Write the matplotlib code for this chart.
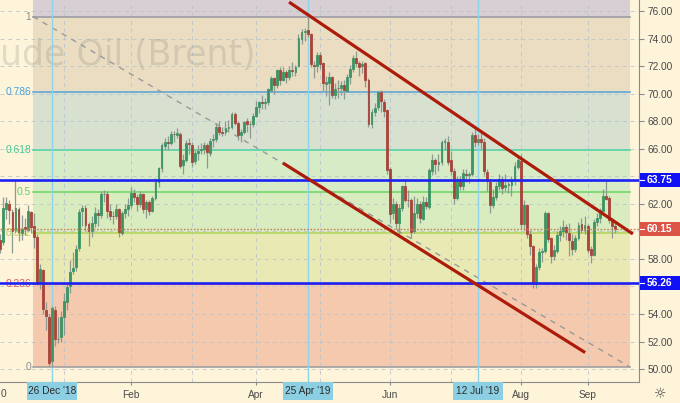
import matplotlib
matplotlib.use("Agg")
import matplotlib.pyplot as plt
from matplotlib.patches import Rectangle
from matplotlib.lines import Line2D

# ---------------- data ----------------
opens = [59.40, 59.20, 61.60, 62.00, 61.40, 60.10, 61.60, 59.90, 60.30, 60.10,
         61.40, 60.40, 59.60, 56.30, 57.20, 54.30, 53.80, 50.60, 54.30, 52.20,
         52.30, 53.80, 54.90, 56.00, 57.10, 57.40, 58.80, 61.50, 61.70, 60.50,
         60.00, 60.60, 61.30, 61.20, 62.70, 62.70, 61.50, 61.10, 61.10, 61.60,
         59.90, 61.30, 61.60, 61.90, 62.80, 62.50, 62.00, 62.70, 61.60, 62.10,
         61.50, 62.40, 63.60, 64.60, 66.20, 66.50, 66.40, 67.10, 67.00, 67.10,
         64.80, 65.20, 66.40, 66.30, 65.10, 65.70, 65.90, 66.00, 66.30, 65.70,
         66.60, 66.70, 67.60, 67.20, 67.20, 67.50, 67.60, 68.50, 67.90, 67.00,
         67.20, 68.00, 67.80, 67.80, 68.40, 69.00, 69.40, 69.30, 69.40, 70.30,
         71.10, 70.60, 71.70, 71.00, 71.60, 71.20, 71.70, 71.60, 72.00, 74.00,
         74.50, 74.60, 74.30, 72.10, 72.00, 72.80, 72.20, 70.70, 70.80, 71.20,
         69.90, 70.40, 70.40, 70.60, 70.20, 71.20, 71.80, 72.60, 72.20, 72.00,
         72.20, 71.00, 67.80, 68.70, 69.00, 70.10, 69.40, 68.80, 64.50, 61.30,
         62.00, 60.60, 61.70, 63.30, 62.30, 62.30, 60.00, 61.30, 62.00, 60.90,
         62.10, 61.80, 64.40, 65.20, 64.90, 65.00, 66.50, 66.50, 65.20, 64.40,
         62.40, 63.80, 63.30, 64.20, 64.10, 64.20, 67.00, 66.50, 66.70, 66.50,
         64.30, 63.60, 61.90, 62.50, 63.30, 63.80, 63.20, 63.40, 63.40, 63.70,
         64.70, 65.10, 60.50, 61.90, 59.80, 58.90, 56.20, 57.40, 58.50, 58.60,
         61.30, 59.50, 58.20, 58.60, 59.70, 60.00, 60.30, 59.90, 59.30, 58.70,
         59.50, 60.50, 60.10, 60.40, 58.70, 58.30, 60.70, 61.00, 61.50, 62.60,
         62.40, 60.80, 60.40]
highs = [59.80, 62.50, 62.50, 62.30, 61.60, 63.70, 61.80, 61.20, 61.00, 61.90,
         61.50, 61.30, 59.80, 57.60, 57.30, 54.90, 54.00, 54.60, 54.60, 53.80,
         54.20, 55.50, 56.30, 57.90, 58.50, 59.00, 61.60, 61.90, 61.90, 60.70,
         61.10, 61.80, 61.60, 62.90, 63.00, 62.90, 62.00, 61.50, 62.00, 61.70,
         61.50, 62.00, 62.40, 63.20, 63.10, 62.70, 62.90, 62.80, 62.30, 62.30,
         62.60, 63.90, 64.70, 66.40, 66.80, 66.90, 67.30, 67.30, 67.50, 67.20,
         65.60, 66.60, 66.80, 66.50, 65.90, 66.30, 66.40, 66.50, 66.40, 66.80,
         67.10, 67.90, 68.00, 67.60, 68.00, 68.10, 68.70, 68.70, 68.00, 67.40,
         68.00, 68.20, 68.00, 68.60, 69.50, 69.50, 69.90, 69.70, 70.40, 71.30,
         71.20, 71.80, 71.90, 71.90, 71.70, 72.00, 72.30, 72.10, 74.30, 74.70,
         74.80, 75.60, 74.40, 72.40, 73.00, 73.00, 72.30, 71.30, 71.60, 71.30,
         70.80, 71.00, 70.90, 71.00, 71.40, 72.10, 72.80, 73.10, 72.40, 72.40,
         72.30, 71.10, 68.90, 69.30, 70.20, 70.30, 69.60, 68.90, 64.70, 62.40,
         62.20, 62.00, 63.40, 63.80, 63.00, 62.40, 62.60, 62.40, 62.20, 62.60,
         62.50, 64.60, 65.60, 65.30, 65.60, 66.60, 66.80, 66.90, 65.80, 64.60,
         64.00, 64.00, 64.50, 64.50, 64.30, 67.20, 67.50, 67.10, 67.20, 66.80,
         64.50, 63.80, 63.10, 63.60, 64.20, 64.00, 64.20, 63.70, 64.00, 65.00,
         65.50, 65.60, 62.30, 62.00, 60.10, 59.00, 57.60, 58.80, 58.80, 61.50,
         61.40, 59.60, 59.00, 60.00, 60.40, 60.80, 60.50, 60.60, 59.80, 59.70,
         60.70, 61.00, 61.10, 60.50, 58.90, 60.90, 61.30, 61.70, 63.10, 63.75,
         62.60, 61.00, 60.70]
lows = [58.40, 59.00, 60.90, 60.50, 58.40, 59.90, 59.30, 59.40, 59.70, 60.00,
        59.90, 58.80, 56.10, 55.80, 54.00, 52.80, 50.20, 50.15, 51.70, 51.90,
        52.00, 52.50, 54.30, 55.50, 56.90, 57.10, 58.60, 60.40, 60.00, 58.90,
        59.60, 60.30, 60.40, 61.00, 62.10, 61.00, 60.80, 60.50, 60.90, 59.60,
        59.70, 61.00, 61.10, 61.70, 62.10, 61.50, 61.80, 61.30, 61.00, 61.20,
        61.40, 62.30, 63.20, 64.30, 66.00, 65.90, 66.30, 66.50, 66.80, 64.60,
        64.20, 65.00, 65.60, 64.70, 64.90, 65.20, 65.60, 65.60, 64.60, 65.50,
        66.10, 66.50, 67.00, 66.90, 67.00, 67.20, 67.40, 67.70, 66.60, 66.50,
        67.10, 67.20, 66.80, 67.60, 68.30, 68.60, 68.90, 68.90, 69.20, 70.10,
        70.00, 70.40, 70.60, 70.90, 70.80, 71.00, 71.30, 71.30, 71.90, 73.60,
        73.80, 74.10, 71.90, 71.10, 71.60, 71.80, 70.20, 69.80, 69.20, 69.70,
        69.60, 69.70, 69.90, 69.60, 70.10, 70.70, 71.60, 71.90, 71.30, 71.50,
        70.50, 67.60, 67.50, 68.40, 68.80, 68.70, 68.30, 64.20, 60.60, 60.90,
        60.20, 59.80, 61.50, 62.10, 61.80, 59.50, 59.90, 61.00, 60.60, 60.80,
        61.60, 61.60, 64.10, 64.20, 64.40, 64.80, 66.00, 64.80, 64.10, 62.00,
        62.30, 63.00, 63.00, 63.60, 63.50, 64.00, 66.10, 66.30, 66.00, 64.10,
        62.90, 61.30, 61.70, 62.30, 63.00, 62.70, 62.90, 62.80, 62.60, 63.40,
        64.50, 60.20, 60.10, 59.50, 58.30, 55.90, 55.90, 57.20, 57.80, 58.40,
        59.20, 57.70, 57.90, 58.40, 59.30, 59.60, 59.40, 58.20, 58.30, 58.50,
        59.40, 59.90, 59.80, 58.40, 57.70, 58.20, 60.40, 60.60, 61.40, 62.30,
        60.60, 59.50, 59.90]
closes = [58.71, 61.69, 62.08, 61.56, 60.06, 61.67, 59.97, 60.20, 60.15, 61.45,
          60.28, 59.61, 56.26, 57.24, 54.35, 53.82, 50.47, 54.47, 52.16, 52.20,
          53.80, 54.91, 55.95, 57.06, 57.33, 58.72, 61.44, 61.68, 60.48, 59.99,
          60.64, 61.32, 61.18, 62.70, 62.74, 61.50, 61.14, 61.09, 61.64, 59.93,
          61.32, 61.65, 61.89, 62.75, 62.51, 61.98, 62.69, 61.63, 62.10, 61.51,
          62.42, 63.61, 64.57, 66.25, 66.50, 66.45, 67.08, 67.07, 67.12, 64.76,
          65.21, 66.39, 66.31, 65.07, 65.67, 65.86, 65.99, 66.30, 65.74, 66.58,
          66.67, 67.55, 67.23, 67.16, 67.54, 67.61, 68.50, 67.86, 67.03, 67.21,
          67.97, 67.83, 67.82, 68.39, 69.01, 69.37, 69.31, 69.40, 70.34, 71.10,
          70.61, 71.73, 71.02, 71.55, 71.18, 71.72, 71.62, 71.97, 74.04, 74.51,
          74.57, 74.35, 72.15, 72.04, 72.80, 72.18, 70.75, 70.85, 71.24, 69.88,
          70.37, 70.39, 70.62, 70.23, 71.24, 71.77, 72.62, 72.21, 71.97, 72.18,
          70.99, 67.76, 68.69, 68.97, 70.11, 69.45, 68.76, 64.49, 61.28, 61.97,
          60.63, 61.67, 63.29, 62.29, 62.29, 59.97, 61.31, 62.01, 60.94, 62.14,
          61.82, 64.45, 65.20, 64.86, 65.05, 66.49, 66.55, 65.00, 64.40, 62.40,
          63.82, 63.30, 64.23, 64.11, 64.16, 67.01, 66.52, 66.72, 66.48, 64.35,
          63.66, 61.93, 62.47, 63.26, 63.83, 63.18, 63.39, 63.46, 63.71, 64.72,
          65.17, 60.50, 61.89, 59.81, 58.94, 56.23, 57.38, 58.53, 58.57, 61.30,
          59.48, 58.23, 58.64, 59.74, 60.03, 60.30, 59.92, 59.34, 58.70, 59.51,
          60.49, 60.08, 60.43, 58.66, 58.26, 60.70, 60.95, 61.54, 62.59, 62.38,
          60.81, 60.38, 60.15]

# x-axis ticks (bar index of the labelled trading day)
tick_bars = [43, 84, 128, 171, 193]
tick_labels = ["Feb", "Apr", "Jun", "Aug", "Sep"]
month_grid_bars = [21, 43, 63, 84, 105, 128, 148, 171, 193]
marked_bars = [17, 101, 157]
marked_labels = ["26 Dec '18", "25 Apr '19", "12 Jul '19"]

# right-axis price ticks (labels hidden under the price boxes are left blank)
ytick_values = [50, 52, 54, 56, 58, 60, 62, 64, 66, 68, 70, 72, 74, 76]
ytick_labels = ["50.00", "52.00", "54.00", "", "58.00", "", "62.00", "",
                "66.00", "68.00", "70.00", "72.00", "74.00", "76.00"]

# Fibonacci retracement (low -> high)
fib_low, fib_high = 50.15, 75.60
fib_start_bar, fib_end_bar = 10.75, 206.9
fib_levels = [0, 0.236, 0.382, 0.5, 0.618, 0.786, 1]
fib_labels = ["0", "0.236", "0.382", "0.5", "0.618", "0.786", "1"]
fib_line_colors = ["#a0a0a0", "#e2675c", "#b3d65e", "#72d86a", "#57d3a6", "#62a6d6", "#9c9ca4"]
fib_text_colors = ["#8e8e8e", "#e5585a", "#b2d25a", "#5ed35e", "#46c795", "#4aa0dc", "#8c8c8c"]
fib_band_colors = ["#f4c9ad", "#e9e9b4", "#d9ecbf", "#d6ebc6", "#d8e0d0", "#eaddc1", "#d8cfd5"]

# horizontal support / resistance levels
hlines_levels = [63.75, 56.26]
last_price = 60.15

# channel lines (bar, price) endpoints
upper_channel = [(94.9, 76.65), (207.9, 59.81)]
lower_channel = [(92.9, 64.96), (192.2, 51.20)]

# ---------------- figure ----------------
W, H = 680, 403
fig = plt.figure(figsize=(W / 100, H / 100), dpi=100)
bg = "#fdf4da"
fig.patch.set_facecolor(bg)
ax = fig.add_axes([0, 21 / H, 639 / W, 382 / H])
ax.set_facecolor(bg)
ymin, ymax = 49.06, 76.80
ax.set_ylim(ymin, ymax)
ax.set_xlim(-0.09, 209.9)

FONT = "Liberation Sans"

# fib bands
prices = [fib_low + (fib_high - fib_low) * lv for lv in fib_levels]
band_edges = prices + [ymax + 1]
for i in range(len(prices)):
    ax.add_patch(Rectangle((fib_start_bar, band_edges[i]), fib_end_bar - fib_start_bar,
                           band_edges[i + 1] - band_edges[i], facecolor=fib_band_colors[i],
                           edgecolor="none", zorder=0.5))
for p, lc, tc, lab in zip(prices, fib_line_colors, fib_text_colors, fib_labels):
    ax.plot([fib_start_bar, fib_end_bar], [p, p], color=lc, lw=1.2, zorder=1.5)
    ax.text(10.1, p, lab, color=tc, ha="right", va="center", fontsize=7.4,
            family=FONT, zorder=1.6)

# grid
for g in ytick_values:
    ax.axhline(g, color="#b8c2cc", lw=0.7, ls=(0, (4, 4)), alpha=0.8, zorder=1)
for b in month_grid_bars:
    ax.axvline(b, color="#b8c2cc", lw=0.7, ls=(0, (4, 4)), alpha=0.8, zorder=1)

# watermark (visible part of the title)
ax.text(0.5 / 639, (382 - 65) / 382, "ude Oil (Brent)", transform=ax.transAxes,
        ha="left", va="baseline", fontsize=25.0, family="DejaVu Sans",
        color="#808080", alpha=0.22, zorder=1.2)

# fib trend (dashed diagonal)
ax.plot([fib_start_bar, fib_end_bar], [fib_high, fib_low], color="#9a9a9a",
        lw=1.0, ls=(0, (4, 4)), zorder=2)

# marked vertical lines
for b in marked_bars:
    ax.axvline(b, color="#8fd3ea", lw=1.0, zorder=2)

# candles
xs = list(range(len(closes)))
up_c, dn_c = "#3f9464", "#a8453a"
body_colors = [up_c if c >= o else dn_c for o, c in zip(opens, closes)]
ax.vlines(xs, lows, highs, colors="#8d9a92", lw=0.9, zorder=3)
ax.bar(xs, [c - o for o, c in zip(opens, closes)], bottom=opens, width=0.62,
       color=body_colors, edgecolor=body_colors, linewidth=0.6, zorder=3.1)

# blue levels and last price
for lv in hlines_levels:
    ax.axhline(lv, color="#1c22f5", lw=1.9, zorder=4)
ax.axhline(last_price, color="#c8805f", lw=1.0, ls=(0, (1.2, 1.2)), zorder=4)

# channel
for seg in (upper_channel, lower_channel):
    ax.plot([seg[0][0], seg[1][0]], [seg[0][1], seg[1][1]], color="#ad1c0b",
            lw=2.3, solid_capstyle="butt", zorder=5)

# axes styling
for s in ("top", "left"):
    ax.spines[s].set_visible(False)
ax.spines["right"].set_color("#8a8a8a")
ax.spines["bottom"].set_color("#8a8a8a")
ax.spines["right"].set_linewidth(0.8)
ax.spines["bottom"].set_linewidth(0.8)
ax.yaxis.tick_right()
ax.set_yticks(ytick_values)
ax.set_yticklabels(ytick_labels)
ax.tick_params(axis="y", length=3.5, width=0.8, color="#8a8a8a", pad=2.5,
               labelsize=7.3, labelcolor="#4a4a4a")
ax.set_xticks(tick_bars)
ax.set_xticklabels(tick_labels)
ax.tick_params(axis="x", length=2.5, width=0.8, color="#8a8a8a", pad=3,
               labelsize=7.3, labelcolor="#4a4a4a")
for lab in ax.get_xticklabels() + ax.get_yticklabels():
    lab.set_family(FONT)

# helpers to pixel coords
fig.canvas.draw()

def ypix(price):
    return ax.transData.transform((0, price))[1]

def xpix(bar):
    return ax.transData.transform((bar, 0))[0]

# partially visible left date label
fig.text(0.5 / W, ypix(ymin) / H - 12 / H, "0", color="#4a4a4a", ha="left", va="center",
         fontsize=7.3, family=FONT)

# right-side price boxes
for price, col in [(63.75, "#1010f4"), (last_price, "#dc5446"), (56.26, "#1010f4")]:
    yc = ypix(price)
    fig.add_artist(Rectangle((640 / W, (yc - 7) / H), 40 / W, 14 / H,
                             transform=fig.transFigure, facecolor=col, edgecolor="none"))
    fig.add_artist(Line2D([640 / W, 644 / W], [yc / H, yc / H], transform=fig.transFigure,
                          color="white", lw=0.8))
    fig.text(647 / W, yc / H, f"{price:.2f}", color="white", ha="left", va="center",
             fontsize=7.4, family=FONT, fontweight="bold")

# bottom date boxes
for b, lab in zip(marked_bars, marked_labels):
    xc = xpix(b)
    fig.add_artist(Rectangle(((xc - 25) / W, 3 / H), 50 / W, 18 / H,
                             transform=fig.transFigure, facecolor="#8ccfe2", edgecolor="none"))
    fig.text(xc / W, 11.5 / H, lab, color="#2c2c2c", ha="center", va="center",
             fontsize=7.3, family=FONT)

# settings icon
fig.text(660 / W, 9 / H, "\u263c", ha="center", va="center", fontsize=10,
         color="#444444", family="DejaVu Sans")

fig.savefig("out.png", dpi=100, facecolor=bg)
